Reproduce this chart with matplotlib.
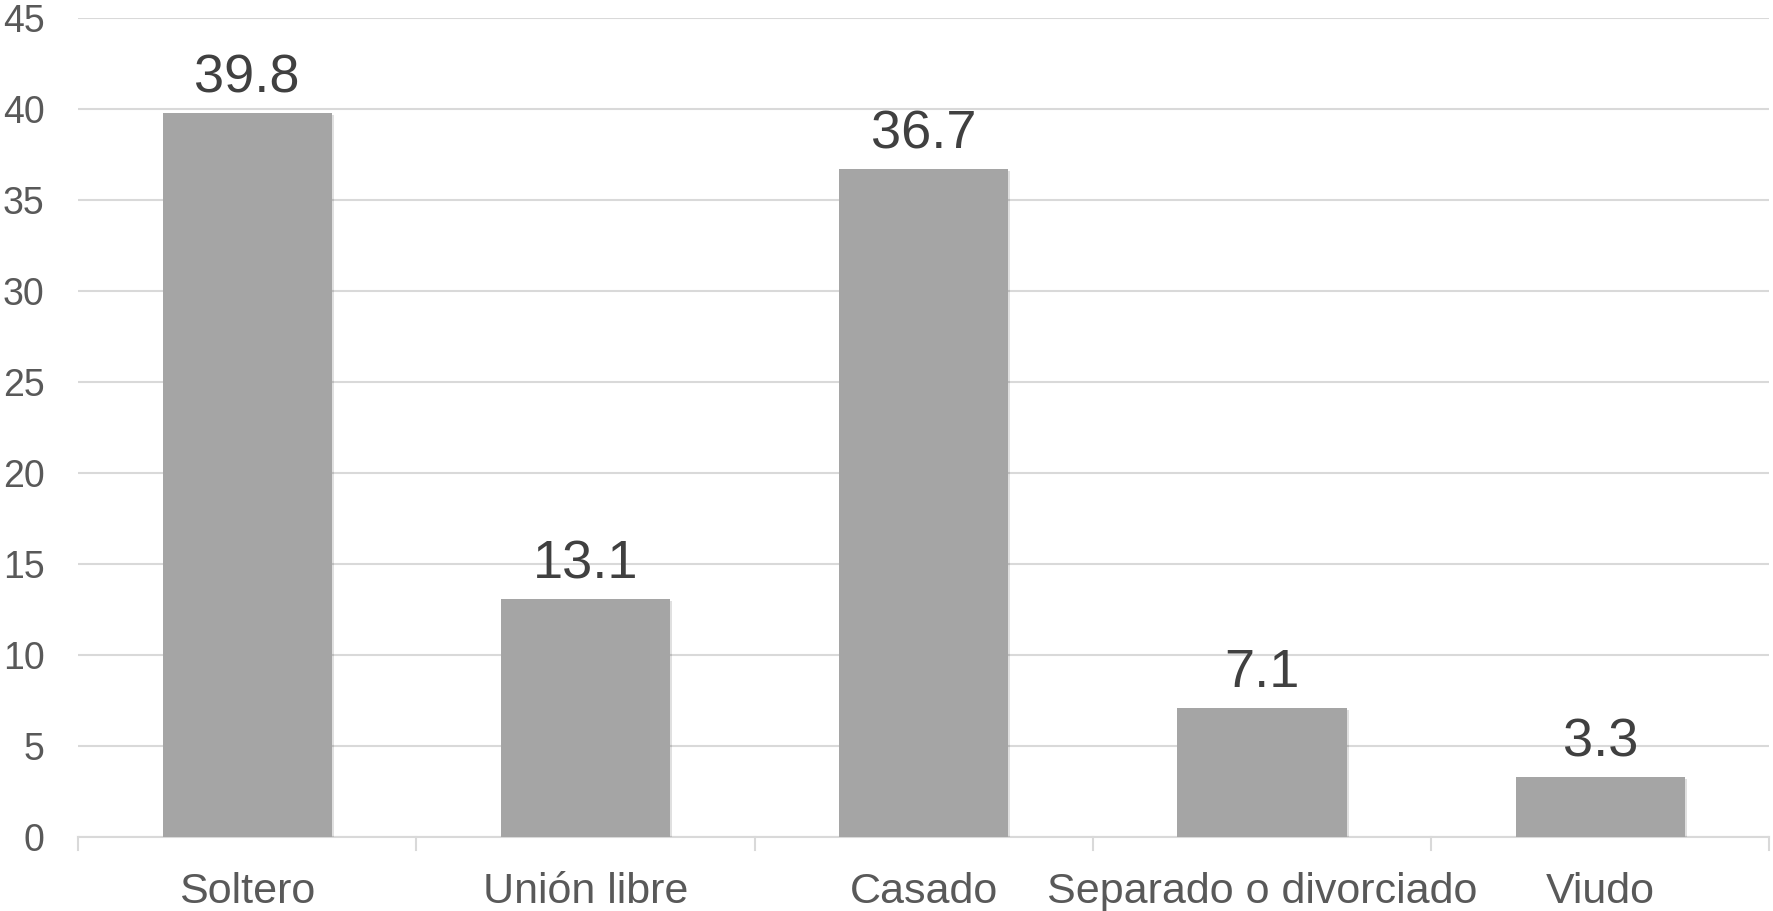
import matplotlib
matplotlib.use("Agg")
import matplotlib.pyplot as plt
import matplotlib.patheffects as pe
import numpy as np

categories = ["Soltero", "Unión libre", "Casado", "Separado o divorciado", "Viudo"]
values = [39.8, 13.1, 36.7, 7.1, 3.3]
yticks = [0, 5, 10, 15, 20, 25, 30, 35, 40, 45]

plt.rcParams['font.family'] = ['Liberation Sans', 'DejaVu Sans']

fig = plt.figure(figsize=(17.73, 9.11), dpi=100)
ax = fig.add_axes([0.044, 0.081, 0.954, 0.899])

x = np.arange(len(categories))
bars = ax.bar(x, values, width=0.5, color='#A5A5A5', zorder=3)
for b in bars:
    b.set_path_effects([pe.SimplePatchShadow(offset=(1.5, -1.5), shadow_rgbFace='#000000', alpha=0.12),
                        pe.Normal()])

for xi, v in zip(x, values):
    ax.annotate(f"{v:.1f}", (xi, v), xytext=(0, 7), textcoords='offset points',
                ha='center', va='bottom', fontsize=39, color='#404040', zorder=4)

ax.set_xlim(-0.5, len(categories) - 0.5)
ax.set_ylim(0, 45)
ax.set_yticks(yticks)
ax.set_xticks(x)
ax.set_xticklabels(categories)

ax.grid(axis='y', color='#D9D9D9', lw=1.5, zorder=0)
ax.set_axisbelow(True)

for s in ['top', 'right', 'left']:
    ax.spines[s].set_visible(False)
ax.spines['bottom'].set_color('#D9D9D9')
ax.spines['bottom'].set_linewidth(1.5)

ax.tick_params(axis='y', length=0, labelsize=27, labelcolor='#595959', pad=24)
ax.tick_params(axis='x', length=0, labelsize=31, labelcolor='#595959', pad=25)

# category separator ticks on the x axis
for b in np.arange(-0.5, len(categories), 1.0):
    ax.plot([b, b], [0, -0.7], color='#D9D9D9', lw=1.5, clip_on=False, zorder=2)

fig.savefig("out.png", dpi=100)
